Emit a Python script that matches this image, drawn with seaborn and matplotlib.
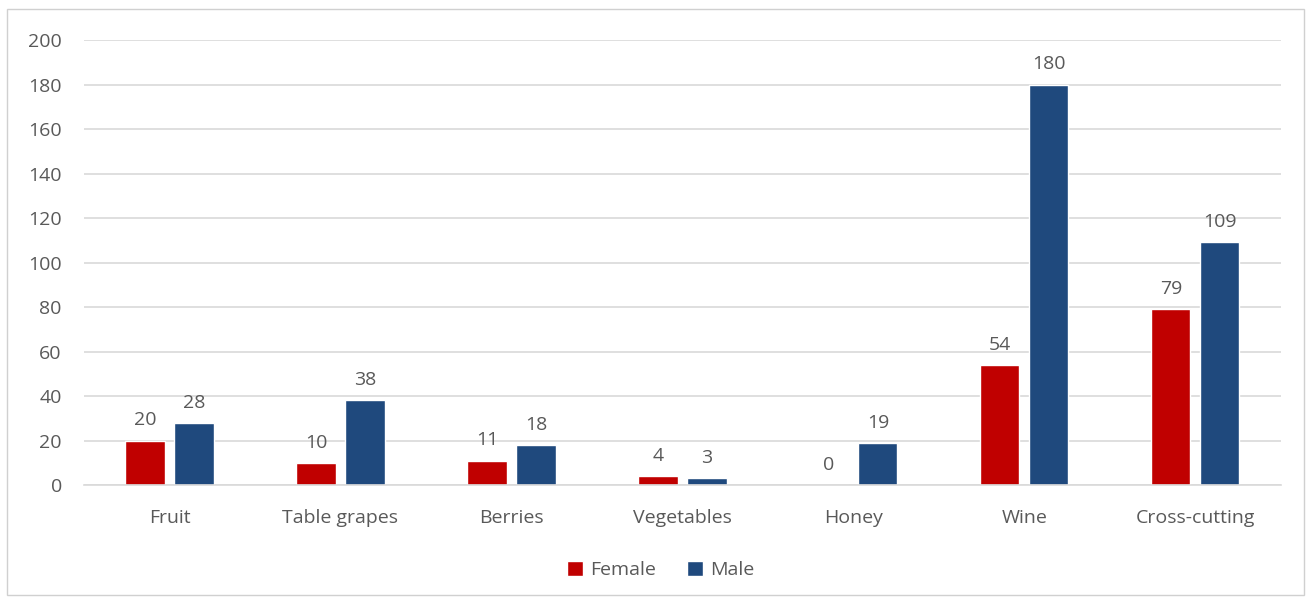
import pandas as pd
import matplotlib.pyplot as plt
import seaborn as sns
from matplotlib.patches import Rectangle

# Data
categories = ['Fruit', 'Table grapes', 'Berries', 'Vegetables', 'Honey', 'Wine', 'Cross-cutting']
female = [20, 10, 11, 4, 0, 54, 79]
male = [28, 38, 18, 3, 19, 180, 109]

data = pd.DataFrame({
    'Category': categories * 2,
    'Count': female + male,
    'Sex': ['Female'] * len(categories) + ['Male'] * len(categories),
})

sns.set_theme(style="white")
plt.rcParams['font.family'] = ['Open Sans', 'DejaVu Sans']

text_color = '#595959'
grid_color = '#D9D9D9'
palette = {'Female': '#C00000', 'Male': '#1F497D'}
fs = 14

fig = plt.figure(figsize=(13.11, 6.01), dpi=100)
ax = fig.add_axes([0.0641, 0.193, 0.9129, 0.7404])

sns.barplot(data=data, x='Category', y='Count', hue='Sex', palette=palette,
            width=0.573, gap=0.2, ax=ax, saturation=1)

ax.set_ylim(0, 200)
ax.set_yticks(range(0, 201, 20))
ax.set_xlim(-0.5, len(categories) - 0.5)
ax.yaxis.grid(True, color=grid_color, linewidth=1.2)
ax.set_axisbelow(True)
for side in ['top', 'right', 'left']:
    ax.spines[side].set_visible(False)
ax.spines['bottom'].set_color(grid_color)
ax.spines['bottom'].set_linewidth(1.2)
ax.tick_params(axis='both', length=0, labelsize=fs, colors=text_color)
ax.tick_params(axis='x', pad=17)
ax.tick_params(axis='y', pad=16)
ax.set_xlabel('')
ax.set_ylabel('')

for cont in ax.containers:
    ax.bar_label(cont, padding=8, fontsize=fs, color=text_color)

handles, labels = ax.get_legend_handles_labels()
ax.legend(handles, labels, loc='center', bbox_to_anchor=(0.482, -0.191), ncol=2,
          frameon=False, fontsize=fs, labelcolor=text_color,
          handlelength=0.8, handleheight=0.8, handletextpad=0.4, columnspacing=1.6)

# Light border around the whole chart
fig.patches.append(Rectangle((0.005, 0.01), 0.99, 0.975, transform=fig.transFigure,
                             fill=False, edgecolor='#D0D0D0', linewidth=1))

fig.savefig('out.png', dpi=100)
plt.close(fig)
